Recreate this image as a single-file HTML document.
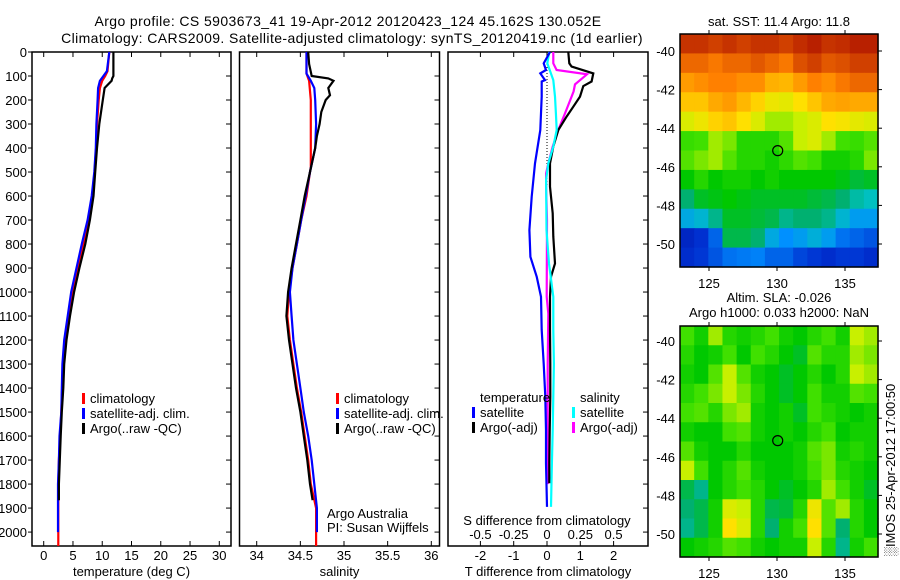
<!DOCTYPE html>
<html><head><meta charset="utf-8"><style>
html,body{margin:0;padding:0;background:#fff;}
svg{display:block;font-family:"Liberation Sans",Arial,sans-serif;}
text{fill:#000;}
</style></head><body>
<svg id="fig" width="900" height="580" viewBox="0 0 900 580" xmlns="http://www.w3.org/2000/svg">
<rect width="900" height="580" fill="#fff"/>
<text x="348" y="26" text-anchor="middle" font-size="14" letter-spacing="0.4">Argo profile: CS 5903673_41 19-Apr-2012 20120423_124 45.162S 130.052E</text>
<text x="352" y="43" text-anchor="middle" font-size="14" letter-spacing="0.4">Climatology: CARS2009. Satellite-adjusted climatology: synTS_20120419.nc (1d earlier)</text>
</svg>
<script>
// ---------- data ----------
const depthTicks = [0,100,200,300,400,500,600,700,800,900,1000,1100,1200,1300,1400,1500,1600,1700,1800,1900,2000];
const tempTicks = [0,5,10,15,20,25,30];
const salTicks = [34,34.5,35,35.5,36];
const salTickLabels = ["34","34.5","35","35.5","36"];
const tdiffTicks = [-2,-1,0,1,2];
const sdiffTicks = [-0.5,-0.25,0,0.25,0.5];
const sdiffTickLabels = ["-0.5","-0.25","0","0.25","0.5"];

const tArgoDepth = [0,100,110,120,150,200,300,400,500,600,700,800,900,1000,1100,1200,1300,1400,1500,1600,1700,1800,1867];
const tArgo      = [11.9,11.9,11.7,11.6,10.4,10.1,9.5,9.1,8.8,8.5,7.9,7.1,6.1,5.2,4.5,3.9,3.5,3.35,3.1,2.9,2.75,2.6,2.6];
const tSatDepth  = [0,80,100,120,150,200,300,400,500,600,700,800,900,1000,1100,1200,1300,1400,1500,1600,1700,1800,1900,2000];
const tSat       = [11.2,10.8,10.2,9.6,9.3,9.2,9.0,8.9,8.65,8.2,7.5,6.5,5.6,4.7,4.1,3.5,3.2,3.1,3.0,2.7,2.6,2.45,2.45,2.45];
const tClimDepth = [0,80,100,120,150,200,300,400,500,600,700,800,900,1000,1100,1200,1300,1400,1500,1600,1700,1800,1900,2058];
const tClim      = [11.2,10.9,10.5,10.0,9.6,9.4,9.1,8.95,8.7,8.3,7.7,6.8,5.9,4.9,4.2,3.6,3.3,3.15,3.0,2.8,2.6,2.5,2.5,2.5];

const sArgoDepth = [0,50,100,110,120,140,150,180,200,250,300,350,400,450,500,600,700,800,900,1000,1100,1200,1300,1400,1500,1600,1700,1800,1867];
const sArgo      = [34.59,34.60,34.63,34.82,34.88,34.84,34.82,34.84,34.79,34.74,34.72,34.69,34.67,34.64,34.61,34.55,34.50,34.45,34.40,34.36,34.34,34.37,34.41,34.45,34.50,34.54,34.58,34.61,34.64];
const sSatDepth  = [0,90,120,150,200,300,400,450,500,600,700,800,900,1000,1100,1200,1300,1400,1500,1600,1700,1800,1900,2000];
const sSat       = [34.57,34.57,34.62,34.66,34.67,34.68,34.67,34.64,34.61,34.56,34.51,34.46,34.41,34.38,34.40,34.42,34.46,34.50,34.54,34.59,34.63,34.66,34.69,34.69];
const sClimDepth = [0,90,120,200,480,500,600,700,800,900,1000,1100,1200,1300,1400,1500,1600,1700,1800,1900,2058];
const sClim      = [34.57,34.57,34.60,34.62,34.62,34.61,34.57,34.51,34.46,34.41,34.37,34.35,34.38,34.42,34.46,34.51,34.55,34.59,34.62,34.68,34.68];

const dTSatDepth = [0,47,75,89,117,123,186,325,464,603,742,853,936,1020,1158,1299,1436,1575,1713,1895];
const dTSat      = [0.09,-0.1,-0.03,-0.2,-0.06,-0.16,-0.16,-0.2,-0.36,-0.46,-0.53,-0.5,-0.31,-0.18,-0.16,-0.1,-0.05,-0.03,-0.03,0];
const dTArgoDepth = [0,47,61,89,123,142,186,228,269,325,394,464,561,672,769,881,936,1020,1158,1299,1436,1575,1713,1797];
const dTArgo      = [0.64,0.67,0.74,1.39,1.34,1.09,0.99,0.79,0.59,0.34,0.19,0.09,0.09,0.17,0.19,0.24,0.12,0.09,0.09,0.1,0.1,0.08,0.07,0.07];
const dSSatDepth = [0,47,117,186,256,325,394,464,533,742,881,1020,1158,1299,1436,1575,1713,1895];
const dSSat      = [0.017,0.002,0.047,0.06,0.067,0.073,0.047,0.01,-0.007,-0.004,0.015,0.047,0.047,0.052,0.047,0.043,0.037,0.03];
const dSArgoDepth = [0,47,75,93,107,135,164,186,256,325,394,464,506,561,700,1020,1090,1299,1575,1800];
const dSArgo      = [0.047,0.047,0.072,0.3,0.27,0.21,0.2,0.185,0.135,0.085,0.043,0.01,-0.007,-0.007,0.0,-0.002,0.01,0.005,0.005,0.005];
const zeroLineDepth = [0,560];

const lonTicks = [125,130,135];
const latTicks = [-40,-42,-44,-46,-48,-50];
const argoLon = 130.052, argoLat = -45.162;
const sstGrid = [
[92,92,90,92,90,92,92,90,93,95,92,93,95,95],
[85,85,83,85,85,87,85,83,88,90,87,88,90,90],
[78,80,82,82,80,80,75,74,78,82,80,83,85,85],
[72,72,76,78,74,70,66,65,68,72,76,77,76,76],
[64,66,70,72,68,64,60,60,62,64,68,67,65,64],
[54,55,60,58,52,52,52,56,62,64,60,55,54,56],
[56,58,60,56,52,52,50,53,56,55,50,50,52,58],
[48,52,48,50,50,48,50,48,48,48,48,47,45,46],
[42,46,47,48,47,46,46,46,46,45,44,42,38,36],
[32,34,40,46,46,45,44,40,42,42,40,34,30,30],
[12,15,22,44,44,42,32,28,30,33,30,24,22,20],
[14,16,20,24,25,26,22,22,18,16,14,16,16,14]];
const slaGrid = [
[55,50,60,52,50,52,55,50,48,52,55,50,62,60],
[52,48,50,55,48,55,52,48,46,56,52,52,60,58],
[50,48,56,62,56,50,48,46,48,52,48,52,62,60],
[52,55,58,62,58,52,48,46,48,55,50,50,56,55],
[55,56,52,58,60,50,48,50,46,55,52,50,48,50],
[50,48,48,55,56,50,48,50,48,52,55,48,50,50],
[56,50,48,48,52,48,48,48,50,56,58,50,52,50],
[62,55,48,52,56,50,48,48,50,55,58,52,50,48],
[44,40,48,52,55,52,48,46,48,52,60,55,50,46],
[42,44,50,64,62,52,44,45,52,66,56,60,52,48],
[40,44,50,68,64,52,42,50,55,68,56,42,52,48],
[48,50,52,56,55,50,48,50,50,62,52,40,50,55]];

// ---------- helpers ----------
const NS = "http://www.w3.org/2000/svg";
const svg = document.getElementById('fig');
function mk(tag, attrs, parent){
  const e = document.createElementNS(NS, tag);
  for (const k in attrs) e.setAttribute(k, attrs[k]);
  (parent||svg).appendChild(e);
  return e;
}
const Y0 = 52, Y1 = 546, DMAX = 2058;
const yD = d => Y0 + (d/DMAX)*(Y1-Y0);
function lin(d0,d1,r0,r1){ return v => r0 + (v-d0)/(d1-d0)*(r1-r0); }

function panel(name, x0, x1, xs, ticks, labels, xlabel, showDepthLabels){
  const g = mk('g', {});
  
  
  const box = mk('rect', {x:x0, y:Y0, width:x1-x0, height:Y1-Y0, fill:'none', stroke:'#000', 'stroke-width':1.5}, g);
  
  
  depthTicks.forEach(d => {
    const y = yD(d);
    const t = mk('line', {x1:x1-5, x2:x1, y1:y, y2:y, stroke:'#000'}, g);
    
    
    if (showDepthLabels){
      const t2 = mk('line', {x1:x0-4, x2:x0, y1:y, y2:y, stroke:'#000'}, g);
      
      
      const lb = mk('text', {x:x0-5, y:y+5, 'text-anchor':'end', 'font-size':13}, g);
      lb.textContent = d;
      
      
    }
  });
  if (ticks) ticks.forEach((v,i) => {
    const x = xs(v);
    const a = mk('line', {x1:x, x2:x, y1:Y1-5, y2:Y1, stroke:'#000'}, g);
    
    
    const b = mk('line', {x1:x, x2:x, y1:Y0, y2:Y0+5, stroke:'#000'}, g);
    
    
    const lb = mk('text', {x:x, y:560, 'text-anchor':'middle', 'font-size':13}, g);
    lb.textContent = labels ? labels[i] : v;
    
    
  });
  const xl = mk('text', {x:(x0+x1)/2, y:576, 'text-anchor':'middle', 'font-size':13}, g);
  xl.textContent = xlabel;
  
  
  return g;
}
function series(g, name, xs, vals, depths, color, dash){
  const pts = vals.map((v,i) => xs(v).toFixed(1) + ',' + yD(depths[i]).toFixed(1)).join(' ');
  const a = {points:pts, fill:'none', stroke:color, 'stroke-width':2.2, 'stroke-linejoin':'miter'};
  if (dash){ a['stroke-dasharray'] = dash; a['stroke-width'] = 1; }
  const p = mk('polyline', a, g);
  
  
}
function legend(g, x, y, entries, prefix){
  entries.forEach((en,i) => {
    const yy = y + i*15;
    if (en[1]){
      const m = mk('rect', {x:x, y:yy-10, width:3, height:11, fill:en[1]}, g);
      
      
    }
    const t = mk('text', {x:x+8, y:yy, 'font-size':13}, g);
    t.textContent = en[0];
    
    
  });
}

// ---------- panel 1: temperature ----------
const xT = lin(-2, 32, 32, 231);
const g1 = panel('temperature-panel', 32, 231, xT, tempTicks, null, 'temperature (deg C)', true);
series(g1, 'temperature-climatology-line', xT, tClim, tClimDepth, '#ff0000');
series(g1, 'temperature-satellite-line', xT, tSat, tSatDepth, '#0000ff');
series(g1, 'temperature-argo-line', xT, tArgo, tArgoDepth, '#000000');
legend(g1, 82, 403, [['climatology','#ff0000'],['satellite-adj. clim.','#0000ff'],['Argo(..raw -QC)','#000000']], 'temperature-legend-entry');

// ---------- panel 2: salinity ----------
const xS = lin(34, 36, 256.7, 431.3);
const g2 = panel('salinity-panel', 239.5, 439.5, xS, salTicks, salTickLabels, 'salinity', false);
series(g2, 'salinity-climatology-line', xS, sClim, sClimDepth, '#ff0000');
series(g2, 'salinity-satellite-line', xS, sSat, sSatDepth, '#0000ff');
series(g2, 'salinity-argo-line', xS, sArgo, sArgoDepth, '#000000');
legend(g2, 336, 403, [['climatology','#ff0000'],['satellite-adj. clim.','#0000ff'],['Argo(..raw -QC)','#000000']], 'salinity-legend-entry');
const cr1 = mk('text', {x:327, y:518, 'font-size':13}, g2);
cr1.textContent = 'Argo Australia';


const cr2 = mk('text', {x:327, y:532, 'font-size':13}, g2);
cr2.textContent = 'PI: Susan Wijffels';



// ---------- panel 3: differences ----------
const xDT = lin(0, 1, 547, 580.3);
const xDS = lin(0, 0.25, 547, 580.3);
const g3 = panel('difference-panel', 448, 648, xDT, tdiffTicks, null, 'T difference from climatology', false);
series(g3, 'zero-reference-line', xDT, [0,0], zeroLineDepth, '#000', '1,2');
series(g3, 'salinity-argo-diff-line', xDS, dSArgo, dSArgoDepth, '#ff00ff');
series(g3, 'temperature-argo-diff-line', xDT, dTArgo, dTArgoDepth, '#000000');
series(g3, 'salinity-satellite-diff-line', xDS, dSSat, dSSatDepth, '#00ffff');
series(g3, 'temperature-satellite-diff-line', xDT, dTSat, dTSatDepth, '#0000ff');
legend(g3, 472, 402, [['temperature',null],['satellite','#0000ff'],['Argo(-adj)','#000000']], 'diff-temperature-legend-entry');
legend(g3, 572, 402, [['salinity',null],['satellite','#00ffff'],['Argo(-adj)','#ff00ff']], 'diff-salinity-legend-entry');
const st = mk('text', {x:547, y:525, 'text-anchor':'middle', 'font-size':13}, g3);
st.textContent = 'S difference from climatology';


sdiffTicks.forEach((v,i) => {
  const t = mk('text', {x:xDS(v), y:539, 'text-anchor':'middle', 'font-size':13}, g3);
  t.textContent = sdiffTickLabels[i];
  
  
});

// ---------- maps ----------
const stops = [[0,'#000090'],[0.15,'#0030d0'],[0.28,'#0090ff'],[0.36,'#00c0c0'],[0.42,'#00b070'],[0.48,'#00c800'],[0.55,'#40e000'],[0.62,'#c8f000'],[0.68,'#ffe000'],[0.75,'#ffb000'],[0.82,'#ff8000'],[0.9,'#d04000'],[1,'#a00000']];
function hex(h){ return [1,3,5].map(i => parseInt(h.substr(i,2),16)); }
function cmap(v){
  v = Math.max(0, Math.min(1, v));
  for (let i=1;i<stops.length;i++){
    if (v <= stops[i][0]){
      const a = hex(stops[i-1][1]), b = hex(stops[i][1]);
      const f = (v - stops[i-1][0])/(stops[i][0]-stops[i-1][0]);
      return 'rgb(' + a.map((c,k)=>Math.round(c+(b[k]-c)*f)).join(',') + ')';
    }
  }
  return stops[stops.length-1][1];
}
function map(name, top, bottom, lat40y, lat50y, grid){
  const g = mk('g', {});
  
  
  const L = 680, R = 878;
  const xLon = lin(125, 135, 709, 845);
  const yLat = lin(-40, -50, lat40y, lat50y);
  const lonL = 122.87, lonR = 137.43;
  const latT = -40 + (lat40y - top)/((lat50y-lat40y)/10);
  const latB = -40 - (bottom - lat40y)/((lat50y-lat40y)/10);
  const nr = grid.length, nc = grid[0].length;
  const dLon = (lonR-lonL)/nc, dLat = (latT-latB)/nr;
  grid.forEach((row, r) => row.forEach((v, c) => {
    const x = xLon(lonL + c*dLon), y = yLat(latT - r*dLat);
    const w = xLon(lonL + (c+1)*dLon) - x, h = yLat(latT - (r+1)*dLat) - y;
    const cell = mk('rect', {x:x.toFixed(2), y:y.toFixed(2), width:(w+0.6).toFixed(2), height:(h+0.6).toFixed(2), fill:cmap(v/100)}, g);
    
    
  }));
  const fr = mk('rect', {x:L, y:top, width:R-L, height:bottom-top, fill:'none', stroke:'#000', 'stroke-width':1.5}, g);
  
  
  lonTicks.forEach(v => {
    const x = xLon(v);
    const a = mk('line', {x1:x, x2:x, y1:top-4, y2:top, stroke:'#000'}, g);
    
    
    const b = mk('line', {x1:x, x2:x, y1:bottom, y2:bottom+4, stroke:'#000'}, g);
    
    
    const t = mk('text', {x:x, y:bottom+21, 'text-anchor':'middle', 'font-size':13}, g);
    t.textContent = v;
    
    
  });
  latTicks.forEach(v => {
    const y = yLat(v);
    const a = mk('line', {x1:R, x2:R+4, y1:y, y2:y, stroke:'#000'}, g);
    
    
    const t = mk('text', {x:L-5, y:y+5, 'text-anchor':'end', 'font-size':13}, g);
    t.textContent = v;
    
    
  });
  const c = mk('circle', {cx:xLon(argoLon), cy:yLat(argoLat), r:5, fill:'none', stroke:'#000', 'stroke-width':1.2}, g);
  
  
  return g;
}
const m1 = map('sst-map', 34, 267, 51, 244, sstGrid);
const m2 = map('sla-map', 326, 557, 341, 534, slaGrid);
const mt1 = mk('text', {x:779, y:26, 'text-anchor':'middle', 'font-size':13}, m1);
mt1.textContent = 'sat. SST: 11.4 Argo: 11.8';


const mt2 = mk('text', {x:779, y:302, 'text-anchor':'middle', 'font-size':13}, m2);
mt2.textContent = 'Altim. SLA: -0.026';


const mt3 = mk('text', {x:779, y:317, 'text-anchor':'middle', 'font-size':13}, m2);
mt3.textContent = 'Argo h1000: 0.033 h2000: NaN';


const imos = mk('text', {x:0, y:0, 'text-anchor':'middle', 'font-size':13, transform:'translate(895,470) rotate(-90)'});
imos.textContent = '\u2591IMOS 25-Apr-2012 17:00:50';


</script>
</body></html>
